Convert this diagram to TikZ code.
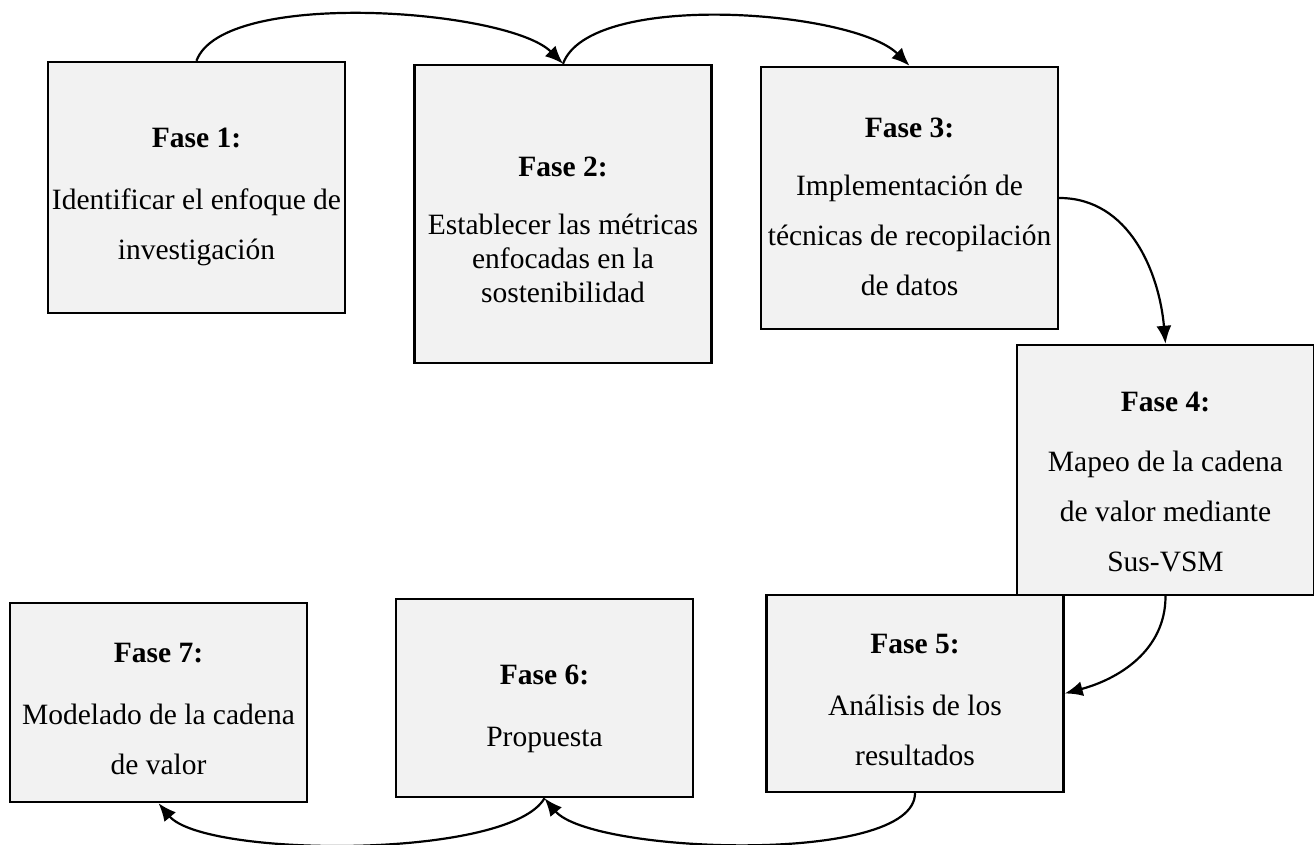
\documentclass[tikz,border=0pt]{standalone}
\usepackage{fontspec}
\setmainfont{Liberation Serif}
\usepackage{tikz}
\usetikzlibrary{arrows.meta}
\definecolor{fasefill}{HTML}{F2F2F2}
\newcommand{\fasetit}[2][38pt]{\rule{0pt}{#1}\textbf{Fase #2:}}
\tikzset{
  fase/.style={draw, line width=2.4pt, fill=fasefill, align=center, inner sep=2pt,
    minimum width=297pt, font=\fontsize{29.5}{50}\selectfont},
  flecha/.style={line width=2.2pt, -{Latex[length=18pt,width=15pt]}}
}
\begin{document}
\begin{tikzpicture}[x=1pt, y=1pt] % 7 fases
   \useasboundingbox (0,0) rectangle (1314,845);
   \node[name=f1, fase, minimum height=251pt] at (196.5,657.5)
      {\fasetit{1}\\[12pt] Identificar el enfoque de\\ investigación};
   \node[name=f2, fase, minimum height=298pt, font=\fontsize{29.5}{34}\selectfont] at (563,631)
      {\fasetit[52pt]{2}\\[24pt] Establecer las métricas\\ enfocadas en la\\ sostenibilidad};
   \node[name=f3, fase, minimum height=262pt] at (909.5,647)
      {\fasetit{3}\\[8pt] Implementación de\\ técnicas de recopilación\\ de datos};
   \node[name=f4, fase, minimum height=250pt] at (1165.5,375)
      {\fasetit[44pt]{4}\\[10pt] Mapeo de la cadena\\ de valor mediante\\ Sus-VSM};
   \node[name=f5, fase, minimum height=197pt] at (915,151.5)
      {\fasetit[32pt]{5}\\[12pt] Análisis de los\\ resultados};
   \node[name=f6, fase, minimum height=198pt] at (544.5,147)
      {\fasetit[42pt]{6}\\[12pt] Propuesta};
   \node[name=f7, fase, minimum height=199pt] at (158.5,142.5)
      {\fasetit[32pt]{7}\\[12pt] Modelado de la cadena\\ de valor};
   % conectores
   \draw[flecha] (f1.north) to[out=70, in=135, looseness=0.54] (f2.north);
   \draw[flecha] (f2.north) to[out=70, in=135, looseness=0.58] (f3.north);
   \draw[flecha] (f3.east) to[out=0, in=95] (f4.north);
   \draw[flecha] (f4.south) to[out=-90, in=15] (f5.east);
   \draw[flecha] (f5.south) to[out=-90, in=-50, looseness=0.5] (f6.south);
   \draw[flecha] (f6.south) to[out=-120, in=-50, looseness=0.47] (f7.south);
\end{tikzpicture}
\end{document}
